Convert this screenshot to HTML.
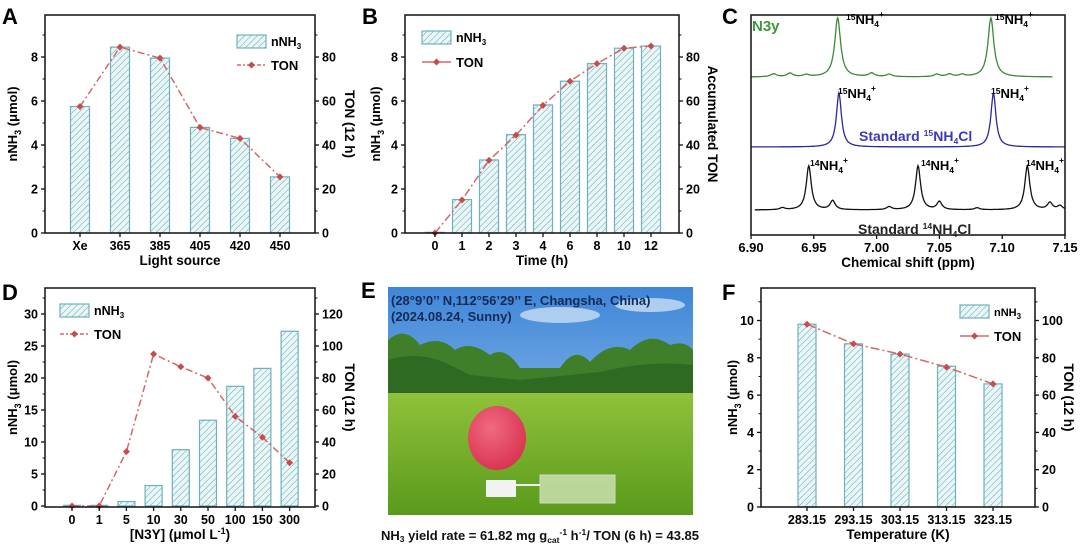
<!DOCTYPE html>
<html><head><meta charset="utf-8">
<style>
html,body{margin:0;padding:0;background:#fff;}
svg{display:block;font-family:"Liberation Sans",Arial,sans-serif;font-weight:bold;}
</style></head>
<body>
<svg id="fig" width="1080" height="547" viewBox="0 0 1080 547" xmlns="http://www.w3.org/2000/svg">
<defs>
<pattern id="hatch" patternUnits="userSpaceOnUse" width="4.5" height="4.5" patternTransform="rotate(45)">
<rect width="4.5" height="4.5" fill="#eaf7f9"/>
<line x1="0" y1="0" x2="0" y2="4.5" stroke="#6aa9b6" stroke-width="1.1"/>
</pattern>
<linearGradient id="sky" x1="0" y1="0" x2="0" y2="1">
<stop offset="0" stop-color="#3f86d8"/><stop offset="1" stop-color="#a9cdf0"/>
</linearGradient>
<linearGradient id="grass" x1="0" y1="0" x2="0" y2="1">
<stop offset="0" stop-color="#8fc23a"/><stop offset="1" stop-color="#5a9a1c"/>
</linearGradient>
<radialGradient id="ball" cx="0.4" cy="0.35" r="0.7">
<stop offset="0" stop-color="#f06a80"/><stop offset="1" stop-color="#d8324f"/>
</radialGradient>
</defs>
<g id="root"></g>
</svg>
<script>
// ---------- Panel A data ----------
const catsA = ["Xe","365","385","405","420","450"];
const nnh3A = [5.75, 8.45, 7.95, 4.8, 4.3, 2.55];
const tonA = [57.5, 84.5, 79.5, 48, 43, 25.5];
const ticksAL = [0,2,4,6,8];
const ticksAR = [0,20,40,60,80];
// ---------- Panel B data ----------
const catsB = ["0","1","2","3","4","6","8","10","12"];
const nnh3B = [0.03, 1.52, 3.32, 4.47, 5.82, 6.9, 7.7, 8.4, 8.5];
const tonB = [0, 15, 33, 44.5, 58, 69, 77, 84, 85];
const ticksBL = [0,2,4,6,8];
const ticksBR = [0,20,40,60,80];
// ---------- Panel D data ----------
const catsD = ["0","1","5","10","30","50","100","150","300"];
const nnh3D = [0.1, 0.1, 0.7, 3.2, 8.8, 13.4, 18.7, 21.5, 27.3];
const tonD = [0, 0, 34, 95, 87, 80, 56, 43, 27];
const ticksDL = [0,5,10,15,20,25,30];
const ticksDR = [0,20,40,60,80,100,120];
// ---------- Panel F data ----------
const catsF = ["283.15","293.15","303.15","313.15","323.15"];
const nnh3F = [9.8, 8.75, 8.2, 7.55, 6.6];
const tonF = [98, 87.5, 82, 75, 66];
const ticksFL = [0,2,4,6,8,10];
const ticksFR = [0,20,40,60,80,100];
// ---------- Panel C data (peaks: position ppm, height px) ----------
const ticksC = [6.90, 6.95, 7.00, 7.05, 7.10, 7.15];
const greenPeakPos = [6.969, 7.091, 6.918, 6.931, 6.944, 6.996, 7.010, 7.048, 7.058, 7.068];
const greenPeakH   = [59, 59, 3, 3.5, 2, 3.5, 2.5, 2.5, 2.5, 2];
const bluePeakPos  = [6.970, 7.093];
const bluePeakH    = [54, 54];
const blackPeakPos = [6.946, 7.033, 7.120, 6.965, 7.050, 7.138, 6.925, 7.010, 7.080, 7.146];
const blackPeakH   = [44, 44, 44, 9, 8, 7, 2, 3, 2, 4];

const NS="http://www.w3.org/2000/svg";
const root=document.getElementById('root');
function el(tag,attrs,parent,text){const e=document.createElementNS(NS,tag);for(const k in attrs)e.setAttribute(k,attrs[k]);if(text!==undefined)e.textContent=text;(parent||root).appendChild(e);return e;}

function nnh3Title(g,x,y,rot){
  const t=el('text',{x:x,y:y,'font-size':13,'text-anchor':'middle',transform:`rotate(${rot} ${x} ${y})`},g);
  
  
  t.innerHTML='nNH<tspan font-size="9" dy="4">3</tspan><tspan dy="-4"> (μmol)</tspan>';
}

function barPanel(cfg){
  const g=el('g',{},root);
  
  
  const {L,R,T,B,y0,k,kr,cx0,step,bw}=cfg;
  const yL=v=>y0-v*k, yR=v=>y0-v*kr, xC=i=>cx0+i*step;
  const lt=el('text',{x:cfg.lx,y:cfg.ly,'font-size':22},g,cfg.letter);
  
  
  cfg.vals.forEach((v,i)=>{
    const r=el('rect',{x:xC(i)-bw/2,y:yL(v),width:bw,height:Math.max(0.5,yL(0)-yL(v)),fill:'url(#hatch)',stroke:'#6fb0bb','stroke-width':1.2},g);
    
    
  });
  const pts=cfg.ton.map((v,i)=>xC(i)+','+yR(v)).join(' ');
  const pl=el('polyline',{points:pts,fill:'none',stroke:'#d06a6a','stroke-width':1.5,'stroke-dasharray':cfg.dash||'7 3 2 3'},g);
  
  
  cfg.ton.forEach((v,i)=>{
    const x=xC(i),y=yR(v);
    const m=el('polygon',{points:`${x},${y-3.5} ${x+3.5},${y} ${x},${y+3.5} ${x-3.5},${y}`,fill:'#c94b4b'},g);
    
    
  });
  const fr=el('rect',{x:L,y:T,width:R-L,height:B-T,fill:'none',stroke:'#111','stroke-width':1.5},g);
  
  
  cfg.tl.forEach(v=>{
    el('line',{x1:L-4,y1:yL(v),x2:L,y2:yL(v),stroke:'#111','stroke-width':1.3},g);
    const mv=v+(cfg.tl[1]-cfg.tl[0])/2;const my=yL(mv);if(my>T+2)el('line',{x1:L-2.5,y1:my,x2:L,y2:my,stroke:'#111','stroke-width':1},g);
    const t=el('text',{x:L-7,y:yL(v)+4.5,'font-size':12.5,'text-anchor':'end'},g,String(v));
    
    
  });
  cfg.tr.forEach(v=>{
    el('line',{x1:R,y1:yR(v),x2:R+4,y2:yR(v),stroke:'#111','stroke-width':1.3},g);
    const mv=v+(cfg.tr[1]-cfg.tr[0])/2;const my=yR(mv);if(my>T+2)el('line',{x1:R,y1:my,x2:R+2.5,y2:my,stroke:'#111','stroke-width':1},g);
    const t=el('text',{x:R+7,y:yR(v)+4.5,'font-size':12.5},g,String(v));
    
    
  });
  cfg.cats.forEach((c,i)=>{
    el('line',{x1:xC(i),y1:B,x2:xC(i),y2:B+4,stroke:'#111','stroke-width':1.3},g);
    const t=el('text',{x:xC(i),y:B+17,'font-size':cfg.cfs||12.5,'text-anchor':'middle'},g,c);
    
    
  });
  const xt=el('text',{x:(L+R)/2,y:B+32,'font-size':13.5,'text-anchor':'middle'},g);
  
  
  xt.innerHTML=cfg.xtitle;
  nnh3Title(g,cfg.ltx,(T+B)/2,-90);
  const rt=el('text',{x:cfg.rtx,y:(T+B)/2,'font-size':13.5,'text-anchor':'middle',transform:`rotate(90 ${cfg.rtx} ${(T+B)/2})`},g,cfg.rtitle);
  
  
  const lg=el('g',{},g);
  
  
  el('rect',{x:cfg.legx,y:cfg.legy,width:29,height:13,fill:'url(#hatch)',stroke:'#6fb0bb','stroke-width':1.2},lg);
  const lt1=el('text',{x:cfg.legx+34,y:cfg.legy+11,'font-size':cfg.lfs||12.5},lg);
  lt1.innerHTML='nNH<tspan font-size="8" dy="3">3</tspan>';
  const ly=cfg.legy+cfg.legdy;
  el('line',{x1:cfg.legx,y1:ly,x2:cfg.legx+29,y2:ly,stroke:'#d06a6a','stroke-width':1.5,'stroke-dasharray':cfg.legdash||'4 2 2 2'},lg);
  const xm=cfg.legx+14.5;
  el('polygon',{points:`${xm},${ly-3.5} ${xm+3.5},${ly} ${xm},${ly+3.5} ${xm-3.5},${ly}`,fill:'#c94b4b'},lg);
  el('text',{x:cfg.legx+34,y:ly+5,'font-size':13},lg,'TON');
}

barPanel({name:'panel-a',letter:'A',lx:2,ly:24,L:45,R:315,T:15,B:233,y0:233,k:22,kr:2.2,cx0:80,step:40,bw:19,
  cats:catsA,vals:nnh3A,ton:tonA,tl:ticksAL,tr:ticksAR,xtitle:'Light source',ltx:17,rtx:345,rtitle:'TON (12 h)',
  legx:237,legy:35,legdy:30});
barPanel({name:'panel-b',letter:'B',lx:362,ly:24,L:405,R:679,T:15,B:233,y0:233,k:22,kr:2.2,cx0:435,step:27,bw:19,
  cats:catsB,vals:nnh3B,ton:tonB,tl:ticksBL,tr:ticksBR,xtitle:'Time (h)',ltx:380,rtx:708,rtitle:'Accumulated TON',
  legx:422,legy:31,legdy:31,dash:'8 3 2 3',legdash:'none'});
barPanel({name:'panel-d',letter:'D',lx:2,ly:300,L:45,R:315,T:288,B:507,y0:506,k:6.4,kr:1.6,cx0:72,step:27.2,bw:17,
  cats:catsD,vals:nnh3D,ton:tonD,tl:ticksDL,tr:ticksDR,xtitle:'[N3Y] (μmol L<tspan font-size="9" dy="-5">-1</tspan><tspan dy="5">)</tspan>',ltx:17,rtx:345,rtitle:'TON (12 h)',
  legx:60,legy:304,legdy:30});
barPanel({name:'panel-f',letter:'F',lx:722,ly:300,L:761,R:1035,T:288,B:507,y0:507,k:18.65,kr:1.865,cx0:807,step:46.5,bw:18,
  cats:catsF,vals:nnh3F,ton:tonF,tl:ticksFL,tr:ticksFR,xtitle:'Temperature (K)',ltx:737,rtx:1064,rtitle:'TON (12 h)',
  legx:960,legy:305,legdy:31,lfs:11,dash:'9 3 2 3',legdash:'none',cfs:12.5});

// ---------- Panel C ----------
(function(){
  const g=el('g',{},root);
  
  
  const L=751,R=1065,T=15,B=235;
  const xs=v=>L+(v-6.90)/(0.25)*(R-L);
  const lt=el('text',{x:722,y:24,'font-size':22},g,'C');
  
  
  function trace(pos,h,base,w,x0,x1,color,name){
    let d='';
    for(let v=x0;v<=x1+1e-9;v+=0.0005){
      let s=0;for(let i=0;i<pos.length;i++){const u=(v-pos[i])/w;s+=h[i]/(1+u*u);}
      d+=(d?'L':'M')+xs(v).toFixed(1)+','+(base-s).toFixed(1);
    }
    const p=el('path',{d:d,fill:'none',stroke:color,'stroke-width':1.3},g);
    
    
  }
  trace(greenPeakPos,greenPeakH,77,0.0028,6.900,7.140,'#3a8a3a','n3y-spectrum');
  trace(bluePeakPos,bluePeakH,147,0.0024,6.900,7.150,'#2a2aa0','standard-15nh4cl-spectrum');
  trace(blackPeakPos,blackPeakH,210,0.0024,6.903,7.150,'#111','standard-14nh4cl-spectrum');
  const fr=el('rect',{x:L,y:T,width:R-L,height:B-T,fill:'none',stroke:'#111','stroke-width':1.5},g);
  
  
  ticksC.forEach(v=>{
    el('line',{x1:xs(v),y1:B,x2:xs(v),y2:B+4,stroke:'#111','stroke-width':1.3},g);
    const t=el('text',{x:xs(v),y:B+17,'font-size':13,'text-anchor':'middle'},g,v.toFixed(2));
    
    
  });
  const xt=el('text',{x:(L+R)/2,y:B+32,'font-size':13.5,'text-anchor':'middle'},g,'Chemical shift (ppm)');
  
  
  function lab(x,y,iso,fs,color,name,pre,post){
    const t=el('text',{x:x,y:y,'font-size':fs,fill:color},g);
    
    
    t.innerHTML=(pre||'')+`<tspan font-size="${fs*0.62}" dy="-5">${iso}</tspan><tspan dy="5">NH</tspan><tspan font-size="${fs*0.62}" dy="3">4</tspan><tspan dy="-3">${post}</tspan>`;
    return t;
  }
  function ion(x,y,iso,name){
    const t=el('text',{x:x,y:y,'font-size':13},g);
    
    
    t.innerHTML=`<tspan font-size="8.5" dy="-4">${iso}</tspan><tspan dy="4">NH</tspan><tspan font-size="8.5" dy="3">4</tspan><tspan font-size="8.5" dy="-10">+</tspan>`;
  }
  const n3=el('text',{x:752,y:31,'font-size':15,fill:'#3a9a3a'},g,'N3y');
  
  
  ion(846,24,'15','peak-label');ion(995,24,'15','peak-label');
  ion(838,98,'15','peak-label');ion(991,98,'15','peak-label');
  ion(810,170,'14','peak-label');ion(921,170,'14','peak-label');ion(1026,170,'14','peak-label');
  lab(859,141,'15',14,'#3a3ab8','standard-15-label','Standard ','Cl');
  lab(858,234,'14',14,'#222','standard-14-label','Standard ','Cl');
})();

// ---------- Panel E (photo illustration) ----------
(function(){
  const g=el('g',{},root);
  
  
  const lt=el('text',{x:361,y:298,'font-size':22},g,'E');
  
  
  el('rect',{x:388,y:287,width:305,height:228,fill:'url(#sky)'},g);
  el('ellipse',{cx:560,cy:315,rx:40,ry:8,fill:'#d8e8f8',opacity:0.7},g);
  el('ellipse',{cx:650,cy:305,rx:35,ry:7,fill:'#dce9f8',opacity:0.7},g);
  el('rect',{x:515,y:370,width:40,height:25,fill:'#e6eef2'},g);
  el('path',{d:'M388,395 L388,340 Q405,325 420,345 Q440,335 455,350 Q470,340 490,355 Q505,345 520,368 L560,368 Q575,345 590,362 Q610,340 630,350 Q650,330 670,345 Q685,340 693,350 L693,395 Z',fill:'#3f7f2a'},g);
  el('path',{d:'M388,395 L388,360 Q420,350 450,365 L470,375 L520,380 L600,372 Q650,360 693,365 L693,395 Z',fill:'#2e6a22'},g);
  el('rect',{x:388,y:393,width:305,height:122,fill:'url(#grass)'},g);
  el('ellipse',{cx:497,cy:438,rx:29,ry:32,fill:'url(#ball)'},g);
  el('rect',{x:486,y:480,width:30,height:17,fill:'#f2f2f2'},g);
  el('rect',{x:540,y:475,width:75,height:28,fill:'#d8e8c0',opacity:0.75,stroke:'#eef',"stroke-width":1},g);
  el('line',{x1:516,y1:485,x2:540,y2:485,stroke:'#eee','stroke-width':2},g);
  const t1=el('text',{x:391,y:305,'font-size':13,fill:'#152a55'},g,'(28°9’0’’ N,112°56’29’’ E, Changsha, China)');
  
  
  const t2=el('text',{x:391,y:321,'font-size':13,fill:'#152a55'},g,'(2024.08.24, Sunny)');
  
  
  const c=el('text',{x:540,y:540,'font-size':13,'text-anchor':'middle',fill:'#111'},g);
  
  
  c.innerHTML='NH<tspan font-size="8.5" dy="2">3</tspan><tspan dy="-2"> yield rate = 61.82 mg g</tspan><tspan font-size="8.5" dy="3">cat</tspan><tspan font-size="8.5" dy="-8">-1</tspan><tspan dy="5"> h</tspan><tspan font-size="8.5" dy="-5">-1</tspan><tspan dy="5">/ TON (6 h) = 43.85</tspan>';
})();
</script>
</body></html>
